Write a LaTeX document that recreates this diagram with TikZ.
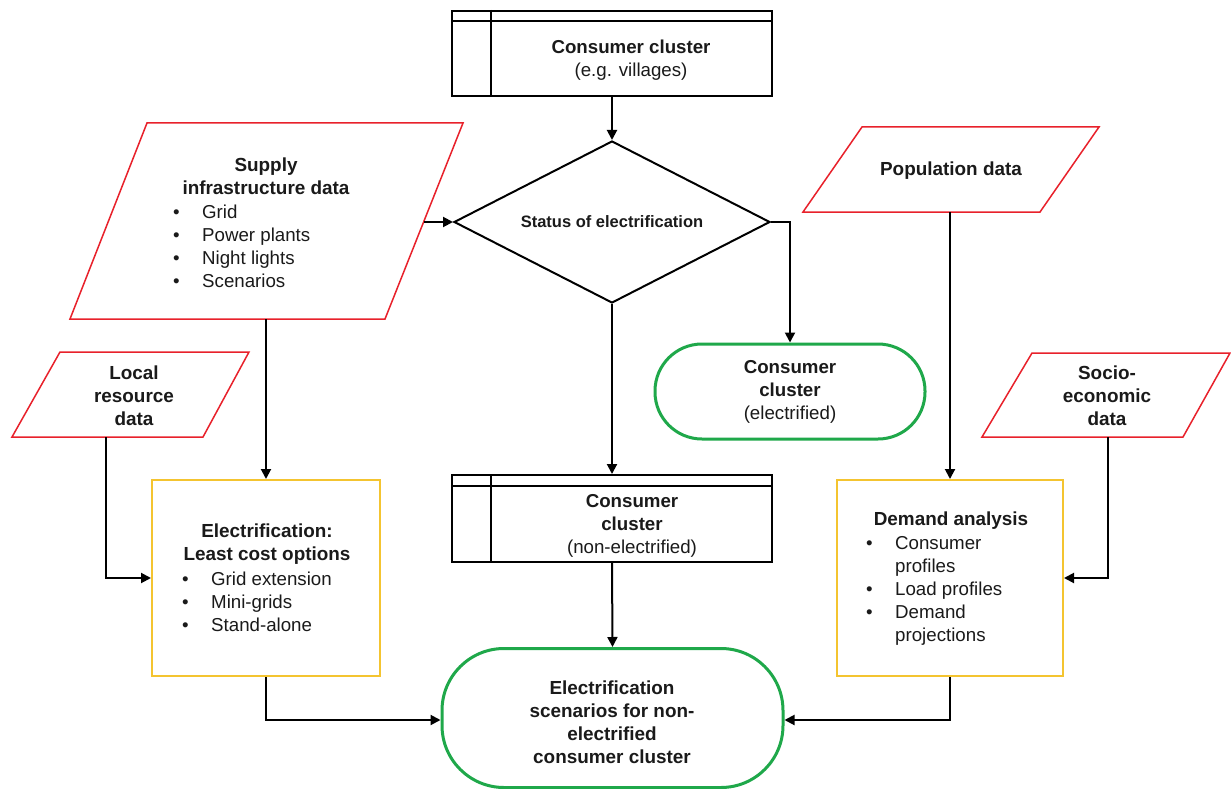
\documentclass[tikz,border=0pt]{standalone}
\usepackage{fontspec}
\setmainfont{Liberation Sans}
\usetikzlibrary{shapes.geometric,arrows.meta}
\definecolor{redline}{HTML}{E8212B}
\definecolor{yelline}{HTML}{F4C430}
\definecolor{grnline}{HTML}{1FA84A}
\definecolor{txtc}{HTML}{1A1A1A}
\begin{document}
\begin{tikzpicture}[x=1pt,y=-1pt,
  blk/.style={draw=black, line width=2pt},
  redp/.style={draw=redline, line width=1.5pt},
  yelbox/.style={draw=yelline, line width=2pt, minimum width=228pt, minimum height=196pt, inner sep=0pt},
  grnbox/.style={draw=grnline, line width=3pt, inner sep=0pt},
  arr/.style={-{Triangle[length=10pt,width=10pt]}, line width=2pt, black},
  txt/.style={font=\fontsize{18.7}{23}\selectfont, align=center, inner sep=0pt, text=txtc},
  btxt/.style={font=\bfseries\fontsize{18.9}{23}\selectfont, align=center, inner sep=0pt, text=txtc},
  list/.style={font=\fontsize{18.7}{23}\selectfont, align=left, inner sep=0pt, text=txtc, anchor=west}
]
\useasboundingbox (0,0) rectangle (1231,789);
\fill[white] (0,0) rectangle (1231,789);
\newcommand{\bul}{\makebox[29pt][l]{\textbullet}}
\newcommand{\ind}{\hspace*{29pt}}

% top consumer cluster box
\node[blk, minimum width=320pt, minimum height=85pt, inner sep=0pt] (cc) at (612,53.5) {};
\draw[blk] ([yshift=-11pt]cc.north west) -- ([yshift=-11pt]cc.north east);
\draw[blk] ([xshift=40pt]cc.north west) -- ([xshift=40pt]cc.south west);
\node[txt] (cct) at (631,60) {\textbf{Consumer cluster}\\(e.g. villages)};

% decision diamond
\node[blk, diamond, aspect=1.95, minimum width=316pt, minimum height=162pt, inner sep=0pt,
      font=\bfseries\fontsize{16.5}{20}\selectfont, text=txtc] (st) at (612,222) {Status of electrification};

% supply infrastructure data
\draw[redp] (147,123) -- (463,123) -- (385,319) -- (70,319) -- cycle;
\coordinate (supB) at (266,319);
\coordinate (supR) at (424,222);
\node[btxt] (supt) at (266,176) {Supply\\infrastructure data};
\node[list] (supl) at (173,246) {\bul Grid\\\bul Power plants\\\bul Night lights\\\bul Scenarios};

% population data
\draw[redp] (862,127) -- (1099,127) -- (1040,212) -- (803,212) -- cycle;
\coordinate (popB) at (950,212);
\node[btxt] (popt) at (951,171) {Population data};

% local resource data
\draw[redp] (60,352) -- (249,352) -- (203,437) -- (12,437) -- cycle;
\coordinate (locB) at (106,437);
\node[btxt] (loct) at (134,396) {Local\\resource\\data};

% socio-economic data
\draw[redp] (1032,353) -- (1230,353) -- (1183,437) -- (982,437) -- cycle;
\coordinate (socB) at (1108,437);
\node[btxt] (soct) at (1107,396) {Socio-\\economic\\data};

% electrified cluster
\node[grnbox, rounded corners=47pt, minimum width=270pt, minimum height=95pt] (elz) at (790,391.5) {};
\node[txt] (elzt) at (790,392) {\textbf{Consumer}\\\textbf{cluster}\\(electrified)};

% non-electrified cluster
\node[blk, minimum width=320pt, minimum height=87pt, inner sep=0pt] (ne) at (612,518.5) {};
\draw[blk] ([yshift=-12pt]ne.north west) -- ([yshift=-12pt]ne.north east);
\draw[blk] ([xshift=40pt]ne.north west) -- ([xshift=40pt]ne.south west);
\node[txt] (net) at (632,526) {\textbf{Consumer}\\\textbf{cluster}\\(non-electrified)};

% electrification least cost options
\node[yelbox] (el) at (266,578) {};
\node[btxt] (elt) at (267,544) {Electrification:\\Least cost options};
\node[list] (ell) at (182,602) {\bul Grid extension\\\bul Mini-grids\\\bul Stand-alone};

% demand analysis
\node[yelbox, minimum width=226pt] (dem) at (950,578) {};
\node[btxt] (demt) at (951,521) {Demand analysis};
\node[list] (deml) at (866,591) {\bul Consumer\\\ind profiles\\\bul Load profiles\\\bul Demand\\\ind projections};

% scenarios
\node[grnbox, rounded corners=62pt, minimum width=341pt, minimum height=139pt] (sc) at (612.5,718) {};
\node[btxt] (sct) at (612,722) {Electrification\\scenarios for non-\\electrified\\consumer cluster};

% connectors
\draw[arr] (cc.south) -- (st.north);
\draw[arr] (supR) -- (st.west);
\draw[arr] (st.east) -| (elz.north);
\draw[arr] (st.south) -- (ne.north);
\draw[arr] (supB) -- (el.north);
\draw[arr] (locB) |- (el.west);
\draw[arr] (popB) -- (dem.north);
\draw[arr] (socB) |- (dem.east);
\draw[arr] (ne.south) -- (sc.north);
\draw[arr] (el.south) |- ([yshift=-2pt]sc.west);
\draw[arr] (dem.south) |- ([yshift=-2pt]sc.east);
\end{tikzpicture}
\end{document}
